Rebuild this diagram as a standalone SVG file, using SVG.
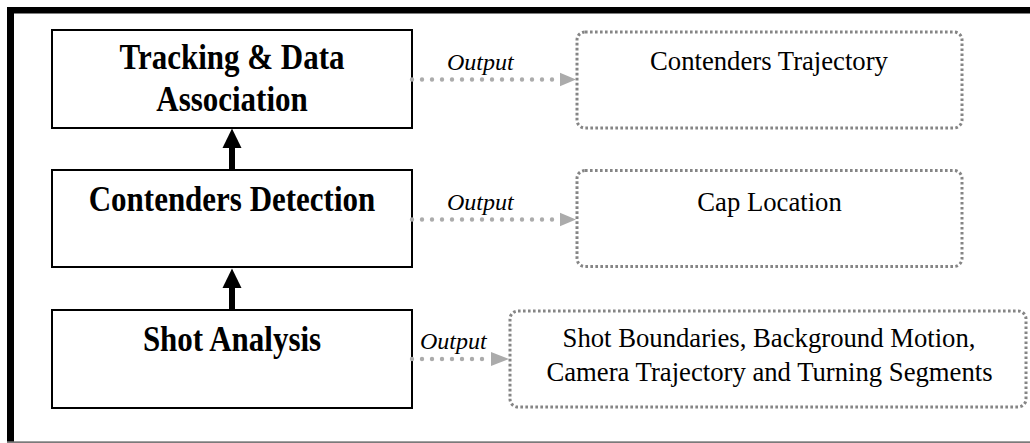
<svg xmlns="http://www.w3.org/2000/svg" width="1030" height="443" viewBox="0 0 1030 443">
  <style>
    .stage { fill: #ffffff; stroke: #000000; stroke-width: 2; }
    .result { fill: #ffffff; stroke: #858585; stroke-width: 3; stroke-dasharray: 2.6 2.4; }
    .title { font-family: "Liberation Serif", "Times New Roman", serif; font-weight: bold; font-size: 31px; fill: #000; text-anchor: middle; }
    .body { font-family: "Liberation Serif", "Times New Roman", serif; font-size: 26.7px; fill: #000; text-anchor: middle; }
    .tag { font-family: "Liberation Serif", "Times New Roman", serif; font-style: italic; font-size: 24px; fill: #000; }
    .flow { fill: none; stroke: #000; stroke-width: 6; }
    .out { fill: none; stroke: #ababab; stroke-width: 4.4; stroke-linecap: round; stroke-dasharray: 0 10; }
  </style>

  <!-- frame -->
  <g id="frame">
    <rect x="7" y="7" width="1023" height="6.5" fill="#000"/>
    <rect x="7" y="7" width="7" height="436" fill="#000"/>
    <rect x="7" y="441.3" width="1023" height="1.7" fill="#7a7a7a"/>
  </g>

  <!-- pipeline stages -->
  <g id="tracking">
    <rect class="stage" x="52" y="30" width="360" height="98"/>
    <text class="title" transform="translate(232,68.5) scale(1,1.15)">Tracking &amp; Data</text>
    <text class="title" transform="translate(232,110.5) scale(1,1.15)">Association</text>
  </g>
  <g id="detection">
    <rect class="stage" x="52" y="170" width="360" height="97"/>
    <text class="title" transform="translate(232,210.5) scale(1,1.15)">Contenders Detection</text>
  </g>
  <g id="shot">
    <rect class="stage" x="52" y="310" width="360" height="98"/>
    <text class="title" transform="translate(232,350.5) scale(1,1.15)">Shot Analysis</text>
  </g>

  <!-- outputs -->
  <g id="trajectory">
    <rect class="result" x="577" y="32" width="385" height="96" rx="8"/>
    <text class="body" transform="translate(769,70) scale(1,1.05)">Contenders Trajectory</text>
  </g>
  <g id="cap">
    <rect class="result" x="577" y="170.5" width="385" height="96" rx="8"/>
    <text class="body" transform="translate(769.5,211) scale(1,1.05)">Cap Location</text>
  </g>
  <g id="segments">
    <rect class="result" x="510" y="311" width="516" height="96" rx="8"/>
    <text class="body" transform="translate(769,346.5) scale(1,1.05)">Shot Boundaries, Background Motion,</text>
    <text class="body" transform="translate(769.5,381) scale(1,1.05)">Camera Trajectory and Turning Segments</text>
  </g>

  <!-- connectors -->
  <g id="connectors">
    <line class="flow" x1="232" y1="170" x2="232" y2="146"/>
    <path d="M232 128.5 L241.5 148 L222.5 148 Z" fill="#000"/>
    <line class="flow" x1="232" y1="310" x2="232" y2="286"/>
    <path d="M232 268.5 L241.5 288 L222.5 288 Z" fill="#000"/>

    <line class="out" x1="412" y1="79.5" x2="556" y2="79.5"/>
    <path d="M560 72.8 L576 79.5 L560 86.2 Z" fill="#ababab"/>
    <text class="tag" x="447" y="70">Output</text>

    <line class="out" x1="412" y1="219.5" x2="556" y2="219.5"/>
    <path d="M560 212.8 L576 219.5 L560 226.2 Z" fill="#ababab"/>
    <text class="tag" x="447" y="210">Output</text>

    <line class="out" x1="412" y1="359" x2="486" y2="359"/>
    <path d="M491 352 L509 359 L491 366 Z" fill="#ababab"/>
    <text class="tag" x="420" y="349">Output</text>
  </g>
</svg>
